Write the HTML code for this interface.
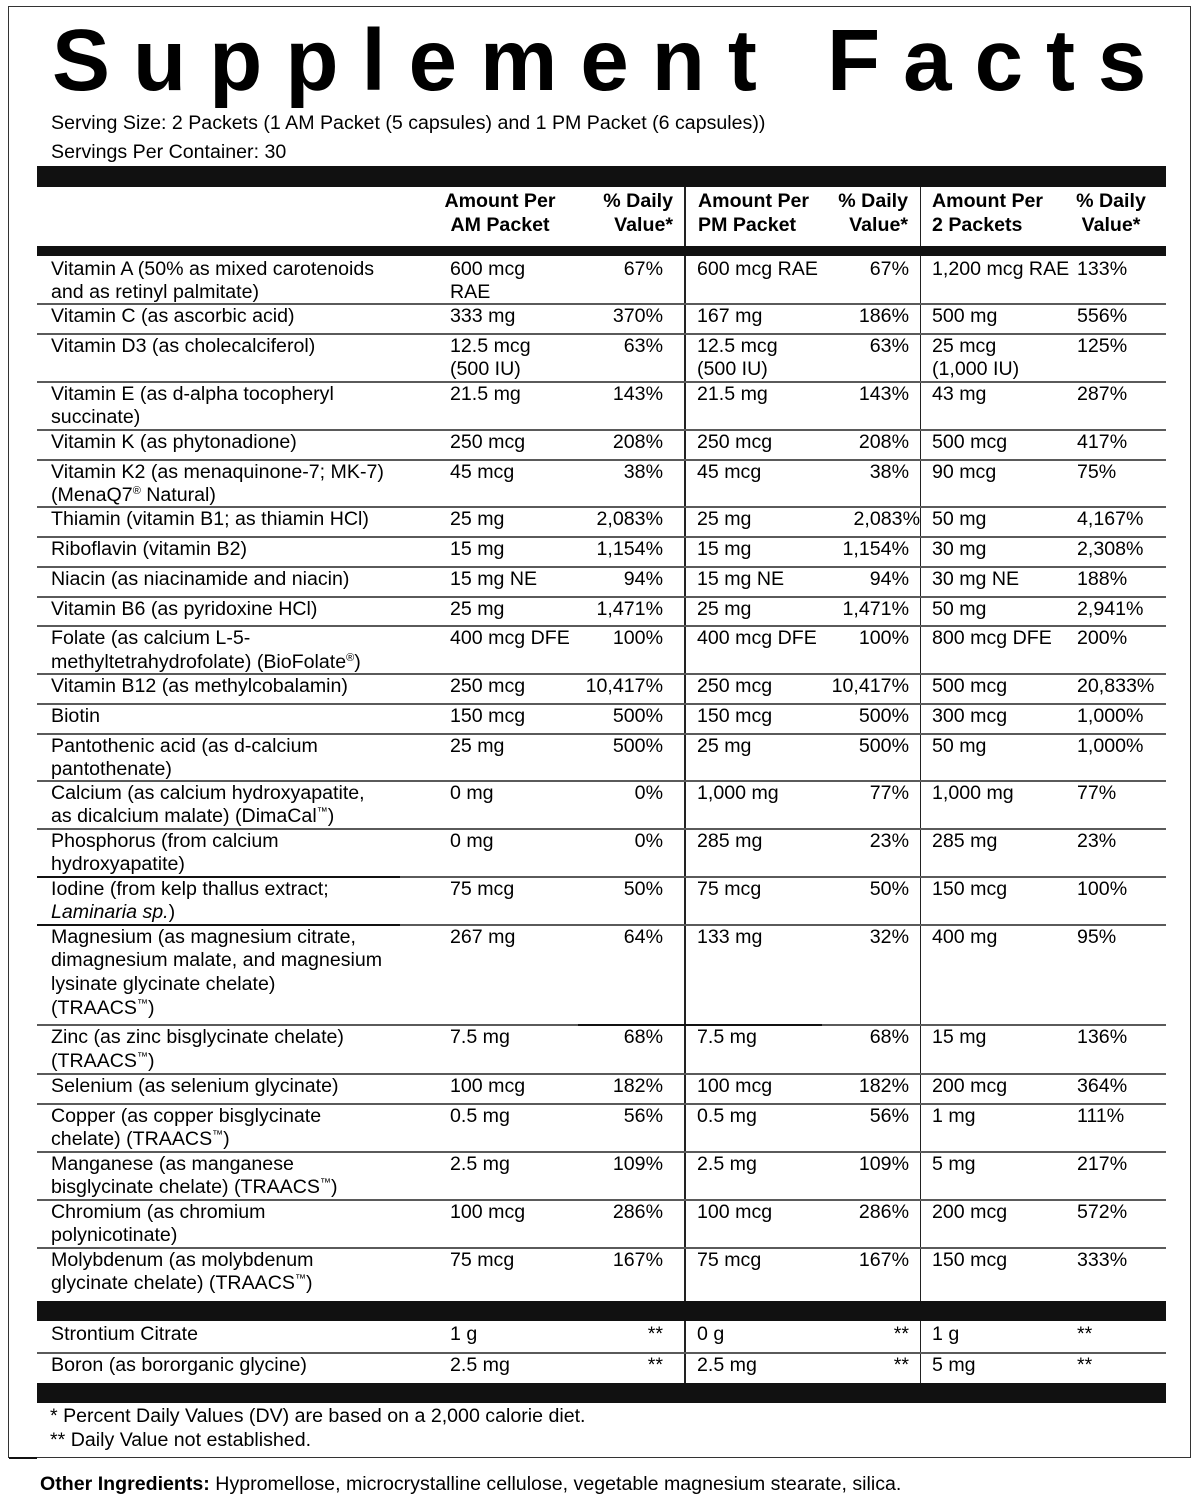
<!DOCTYPE html>
<html>
<head>
<meta charset="utf-8">
<style>
html,body{margin:0;padding:0;background:#fff;}
body{width:1200px;height:1501px;position:relative;overflow:hidden;font-family:"Liberation Sans",Arial,sans-serif;color:#000;}
.t{position:absolute;font-size:19.6px;line-height:23.5px;white-space:nowrap;}
.b{font-weight:bold;}
.n{left:51px;}
.a1{left:450px;}
.p1{right:537px;text-align:right;}
.a2{left:697px;}
.p2{right:291px;text-align:right;}
.a3{left:932px;}
.p3{left:1077px;}
.bar{position:absolute;left:37px;width:1129px;background:#111;}
.sep{position:absolute;left:37px;width:1129px;height:2px;background:#5a5a5a;}
.vl{position:absolute;width:1.5px;background:#222;}
sup{font-size:11px;line-height:0;vertical-align:7px;}
</style>
</head>
<body>
<div style="position:absolute;left:8px;top:6px;width:1183px;height:1452px;border:1.5px solid #333;box-sizing:border-box;"></div>
<div style="position:absolute;left:9px;top:1457px;width:28px;height:2px;background:#111;"></div>

<div style="position:absolute;left:52px;top:17.4px;font-size:87px;line-height:87px;font-weight:bold;letter-spacing:23px;white-space:nowrap;">Supplement Facts</div>

<div class="t" style="left:51px;top:111.5px;">Serving Size: 2 Packets (1 AM Packet (5 capsules) and 1 PM Packet (6 capsules))</div>
<div class="t" style="left:51px;top:140.5px;">Servings Per Container: 30</div>

<!-- vertical lines -->
<div class="vl" style="left:684px;top:187px;height:1196px;"></div>
<div class="vl" style="left:919.5px;top:187px;height:1196px;"></div>

<!-- separators -->
<div class="sep" style="top:302.5px;"></div>
<div class="sep" style="top:332.5px;"></div>
<div class="sep" style="top:380.5px;"></div>
<div class="sep" style="top:428.5px;"></div>
<div class="sep" style="top:458.5px;"></div>
<div class="sep" style="top:506px;"></div>
<div class="sep" style="top:535.7px;"></div>
<div class="sep" style="top:565.5px;"></div>
<div class="sep" style="top:595.5px;"></div>
<div class="sep" style="top:625px;"></div>
<div class="sep" style="top:673px;"></div>
<div class="sep" style="top:702.5px;"></div>
<div class="sep" style="top:732.5px;"></div>
<div class="sep" style="top:779.5px;"></div>
<div class="sep" style="top:827.5px;"></div>
<div class="sep" style="top:875.5px;"></div>
<div class="sep" style="top:923.5px;"></div>
<div class="sep" style="top:1024px;"></div>
<div class="sep" style="top:1072.5px;"></div>
<div class="sep" style="top:1102.5px;"></div>
<div class="sep" style="top:1150.5px;"></div>
<div class="sep" style="top:1198.5px;"></div>
<div class="sep" style="top:1246.5px;"></div>
<div class="sep" style="top:1352px;"></div>
<div style="position:absolute;left:37px;top:875.5px;width:363px;height:2px;background:#111;"></div>
<div style="position:absolute;left:37px;top:923.5px;width:363px;height:2px;background:#111;"></div>
<div style="position:absolute;left:578px;top:1024px;width:244px;height:2px;background:#111;"></div>

<!-- bars -->
<div class="bar" style="top:166px;height:21px;"></div>
<div class="bar" style="top:246px;height:10px;"></div>
<div class="bar" style="top:1301px;height:20px;"></div>
<div class="bar" style="top:1383px;height:20px;"></div>

<!-- header -->
<div class="t b" style="left:400px;width:200px;text-align:center;top:190px;">Amount Per<br>AM Packet</div>
<div class="t b" style="right:527px;text-align:right;top:190px;">% Daily<br>Value*</div>
<div class="t b" style="left:698px;top:190px;">Amount Per<br>PM Packet</div>
<div class="t b" style="right:292px;text-align:right;top:190px;">% Daily<br>Value*</div>
<div class="t b" style="left:932px;top:190px;">Amount Per<br>2 Packets</div>
<div class="t b" style="left:1011px;width:200px;text-align:center;top:190px;">% Daily<br>Value*</div>

<!-- rows -->
<div class="t n" style="top:257.5px;">Vitamin A (50% as mixed carotenoids<br>and as retinyl palmitate)</div>
<div class="t a1" style="top:257.5px;">600 mcg<br>RAE</div>
<div class="t p1" style="top:257.5px;">67%</div>
<div class="t a2" style="top:257.5px;">600 mcg RAE</div>
<div class="t p2" style="top:257.5px;">67%</div>
<div class="t a3" style="top:257.5px;">1,200 mcg RAE</div>
<div class="t p3" style="top:257.5px;">133%</div>

<div class="t n" style="top:304.5px;">Vitamin C (as ascorbic acid)</div>
<div class="t a1" style="top:304.5px;">333 mg</div>
<div class="t p1" style="top:304.5px;">370%</div>
<div class="t a2" style="top:304.5px;">167 mg</div>
<div class="t p2" style="top:304.5px;">186%</div>
<div class="t a3" style="top:304.5px;">500 mg</div>
<div class="t p3" style="top:304.5px;">556%</div>

<div class="t n" style="top:334.5px;">Vitamin D3 (as cholecalciferol)</div>
<div class="t a1" style="top:334.5px;">12.5 mcg<br>(500 IU)</div>
<div class="t p1" style="top:334.5px;">63%</div>
<div class="t a2" style="top:334.5px;">12.5 mcg<br>(500 IU)</div>
<div class="t p2" style="top:334.5px;">63%</div>
<div class="t a3" style="top:334.5px;">25 mcg<br>(1,000 IU)</div>
<div class="t p3" style="top:334.5px;">125%</div>

<div class="t n" style="top:382.5px;">Vitamin E (as d-alpha tocopheryl<br>succinate)</div>
<div class="t a1" style="top:382.5px;">21.5 mg</div>
<div class="t p1" style="top:382.5px;">143%</div>
<div class="t a2" style="top:382.5px;">21.5 mg</div>
<div class="t p2" style="top:382.5px;">143%</div>
<div class="t a3" style="top:382.5px;">43 mg</div>
<div class="t p3" style="top:382.5px;">287%</div>

<div class="t n" style="top:430.5px;">Vitamin K (as phytonadione)</div>
<div class="t a1" style="top:430.5px;">250 mcg</div>
<div class="t p1" style="top:430.5px;">208%</div>
<div class="t a2" style="top:430.5px;">250 mcg</div>
<div class="t p2" style="top:430.5px;">208%</div>
<div class="t a3" style="top:430.5px;">500 mcg</div>
<div class="t p3" style="top:430.5px;">417%</div>

<div class="t n" style="top:460.5px;">Vitamin K2 (as menaquinone-7; MK-7)<br>(MenaQ7<sup>®</sup> Natural)</div>
<div class="t a1" style="top:460.5px;">45 mcg</div>
<div class="t p1" style="top:460.5px;">38%</div>
<div class="t a2" style="top:460.5px;">45 mcg</div>
<div class="t p2" style="top:460.5px;">38%</div>
<div class="t a3" style="top:460.5px;">90 mcg</div>
<div class="t p3" style="top:460.5px;">75%</div>

<div class="t n" style="top:508px;">Thiamin (vitamin B1; as thiamin HCl)</div>
<div class="t a1" style="top:508px;">25 mg</div>
<div class="t p1" style="top:508px;">2,083%</div>
<div class="t a2" style="top:508px;">25 mg</div>
<div class="t" style="right:280px;text-align:right;top:508px;">2,083%</div>
<div class="t a3" style="top:508px;">50 mg</div>
<div class="t p3" style="top:508px;">4,167%</div>

<div class="t n" style="top:537.5px;">Riboflavin (vitamin B2)</div>
<div class="t a1" style="top:537.5px;">15 mg</div>
<div class="t p1" style="top:537.5px;">1,154%</div>
<div class="t a2" style="top:537.5px;">15 mg</div>
<div class="t p2" style="top:537.5px;">1,154%</div>
<div class="t a3" style="top:537.5px;">30 mg</div>
<div class="t p3" style="top:537.5px;">2,308%</div>

<div class="t n" style="top:567.5px;">Niacin (as niacinamide and niacin)</div>
<div class="t a1" style="top:567.5px;">15 mg NE</div>
<div class="t p1" style="top:567.5px;">94%</div>
<div class="t a2" style="top:567.5px;">15 mg NE</div>
<div class="t p2" style="top:567.5px;">94%</div>
<div class="t a3" style="top:567.5px;">30 mg NE</div>
<div class="t p3" style="top:567.5px;">188%</div>

<div class="t n" style="top:597.5px;">Vitamin B6 (as pyridoxine HCl)</div>
<div class="t a1" style="top:597.5px;">25 mg</div>
<div class="t p1" style="top:597.5px;">1,471%</div>
<div class="t a2" style="top:597.5px;">25 mg</div>
<div class="t p2" style="top:597.5px;">1,471%</div>
<div class="t a3" style="top:597.5px;">50 mg</div>
<div class="t p3" style="top:597.5px;">2,941%</div>

<div class="t n" style="top:627px;">Folate (as calcium L-5-<br>methyltetrahydrofolate) (BioFolate<sup>®</sup>)</div>
<div class="t a1" style="top:627px;">400 mcg DFE</div>
<div class="t p1" style="top:627px;">100%</div>
<div class="t a2" style="top:627px;">400 mcg DFE</div>
<div class="t p2" style="top:627px;">100%</div>
<div class="t a3" style="top:627px;">800 mcg DFE</div>
<div class="t p3" style="top:627px;">200%</div>

<div class="t n" style="top:675px;">Vitamin B12 (as methylcobalamin)</div>
<div class="t a1" style="top:675px;">250 mcg</div>
<div class="t p1" style="top:675px;">10,417%</div>
<div class="t a2" style="top:675px;">250 mcg</div>
<div class="t p2" style="top:675px;">10,417%</div>
<div class="t a3" style="top:675px;">500 mcg</div>
<div class="t p3" style="top:675px;">20,833%</div>

<div class="t n" style="top:704.5px;">Biotin</div>
<div class="t a1" style="top:704.5px;">150 mcg</div>
<div class="t p1" style="top:704.5px;">500%</div>
<div class="t a2" style="top:704.5px;">150 mcg</div>
<div class="t p2" style="top:704.5px;">500%</div>
<div class="t a3" style="top:704.5px;">300 mcg</div>
<div class="t p3" style="top:704.5px;">1,000%</div>

<div class="t n" style="top:734.5px;">Pantothenic acid (as d-calcium<br>pantothenate)</div>
<div class="t a1" style="top:734.5px;">25 mg</div>
<div class="t p1" style="top:734.5px;">500%</div>
<div class="t a2" style="top:734.5px;">25 mg</div>
<div class="t p2" style="top:734.5px;">500%</div>
<div class="t a3" style="top:734.5px;">50 mg</div>
<div class="t p3" style="top:734.5px;">1,000%</div>

<div class="t n" style="top:781.5px;">Calcium (as calcium hydroxyapatite,<br>as dicalcium malate) (DimaCal<sup>™</sup>)</div>
<div class="t a1" style="top:781.5px;">0 mg</div>
<div class="t p1" style="top:781.5px;">0%</div>
<div class="t a2" style="top:781.5px;">1,000 mg</div>
<div class="t p2" style="top:781.5px;">77%</div>
<div class="t a3" style="top:781.5px;">1,000 mg</div>
<div class="t p3" style="top:781.5px;">77%</div>

<div class="t n" style="top:829.5px;">Phosphorus (from calcium<br>hydroxyapatite)</div>
<div class="t a1" style="top:829.5px;">0 mg</div>
<div class="t p1" style="top:829.5px;">0%</div>
<div class="t a2" style="top:829.5px;">285 mg</div>
<div class="t p2" style="top:829.5px;">23%</div>
<div class="t a3" style="top:829.5px;">285 mg</div>
<div class="t p3" style="top:829.5px;">23%</div>

<div class="t n" style="top:877.5px;">Iodine (from kelp thallus extract;<br><i>Laminaria sp.</i>)</div>
<div class="t a1" style="top:877.5px;">75 mcg</div>
<div class="t p1" style="top:877.5px;">50%</div>
<div class="t a2" style="top:877.5px;">75 mcg</div>
<div class="t p2" style="top:877.5px;">50%</div>
<div class="t a3" style="top:877.5px;">150 mcg</div>
<div class="t p3" style="top:877.5px;">100%</div>

<div class="t n" style="top:925.5px;line-height:23.7px;">Magnesium (as magnesium citrate,<br>dimagnesium malate, and magnesium<br>lysinate glycinate chelate)<br>(TRAACS<sup>™</sup>)</div>
<div class="t a1" style="top:925.5px;">267 mg</div>
<div class="t p1" style="top:925.5px;">64%</div>
<div class="t a2" style="top:925.5px;">133 mg</div>
<div class="t p2" style="top:925.5px;">32%</div>
<div class="t a3" style="top:925.5px;">400 mg</div>
<div class="t p3" style="top:925.5px;">95%</div>

<div class="t n" style="top:1026px;">Zinc (as zinc bisglycinate chelate)<br>(TRAACS<sup>™</sup>)</div>
<div class="t a1" style="top:1026px;">7.5 mg</div>
<div class="t p1" style="top:1026px;">68%</div>
<div class="t a2" style="top:1026px;">7.5 mg</div>
<div class="t p2" style="top:1026px;">68%</div>
<div class="t a3" style="top:1026px;">15 mg</div>
<div class="t p3" style="top:1026px;">136%</div>

<div class="t n" style="top:1074.5px;">Selenium (as selenium glycinate)</div>
<div class="t a1" style="top:1074.5px;">100 mcg</div>
<div class="t p1" style="top:1074.5px;">182%</div>
<div class="t a2" style="top:1074.5px;">100 mcg</div>
<div class="t p2" style="top:1074.5px;">182%</div>
<div class="t a3" style="top:1074.5px;">200 mcg</div>
<div class="t p3" style="top:1074.5px;">364%</div>

<div class="t n" style="top:1104.5px;">Copper (as copper bisglycinate<br>chelate) (TRAACS<sup>™</sup>)</div>
<div class="t a1" style="top:1104.5px;">0.5 mg</div>
<div class="t p1" style="top:1104.5px;">56%</div>
<div class="t a2" style="top:1104.5px;">0.5 mg</div>
<div class="t p2" style="top:1104.5px;">56%</div>
<div class="t a3" style="top:1104.5px;">1 mg</div>
<div class="t p3" style="top:1104.5px;">111%</div>

<div class="t n" style="top:1152.5px;">Manganese (as manganese<br>bisglycinate chelate) (TRAACS<sup>™</sup>)</div>
<div class="t a1" style="top:1152.5px;">2.5 mg</div>
<div class="t p1" style="top:1152.5px;">109%</div>
<div class="t a2" style="top:1152.5px;">2.5 mg</div>
<div class="t p2" style="top:1152.5px;">109%</div>
<div class="t a3" style="top:1152.5px;">5 mg</div>
<div class="t p3" style="top:1152.5px;">217%</div>

<div class="t n" style="top:1200.5px;">Chromium (as chromium<br>polynicotinate)</div>
<div class="t a1" style="top:1200.5px;">100 mcg</div>
<div class="t p1" style="top:1200.5px;">286%</div>
<div class="t a2" style="top:1200.5px;">100 mcg</div>
<div class="t p2" style="top:1200.5px;">286%</div>
<div class="t a3" style="top:1200.5px;">200 mcg</div>
<div class="t p3" style="top:1200.5px;">572%</div>

<div class="t n" style="top:1248.5px;">Molybdenum (as molybdenum<br>glycinate chelate) (TRAACS<sup>™</sup>)</div>
<div class="t a1" style="top:1248.5px;">75 mcg</div>
<div class="t p1" style="top:1248.5px;">167%</div>
<div class="t a2" style="top:1248.5px;">75 mcg</div>
<div class="t p2" style="top:1248.5px;">167%</div>
<div class="t a3" style="top:1248.5px;">150 mcg</div>
<div class="t p3" style="top:1248.5px;">333%</div>

<div class="t n" style="top:1322.5px;">Strontium Citrate</div>
<div class="t a1" style="top:1322.5px;">1 g</div>
<div class="t p1" style="top:1322.5px;">**</div>
<div class="t a2" style="top:1322.5px;">0 g</div>
<div class="t p2" style="top:1322.5px;">**</div>
<div class="t a3" style="top:1322.5px;">1 g</div>
<div class="t p3" style="top:1322.5px;">**</div>

<div class="t n" style="top:1354px;">Boron (as bororganic glycine)</div>
<div class="t a1" style="top:1354px;">2.5 mg</div>
<div class="t p1" style="top:1354px;">**</div>
<div class="t a2" style="top:1354px;">2.5 mg</div>
<div class="t p2" style="top:1354px;">**</div>
<div class="t a3" style="top:1354px;">5 mg</div>
<div class="t p3" style="top:1354px;">**</div>

<div class="t" style="left:50px;top:1404.5px;">* Percent Daily Values (DV) are based on a 2,000 calorie diet.</div>
<div class="t" style="left:50px;top:1428.5px;">** Daily Value not established.</div>

<div class="t" style="left:40px;top:1472.5px;"><b>Other Ingredients:</b> Hypromellose, microcrystalline cellulose, vegetable magnesium stearate, silica.</div>
</body>
</html>
